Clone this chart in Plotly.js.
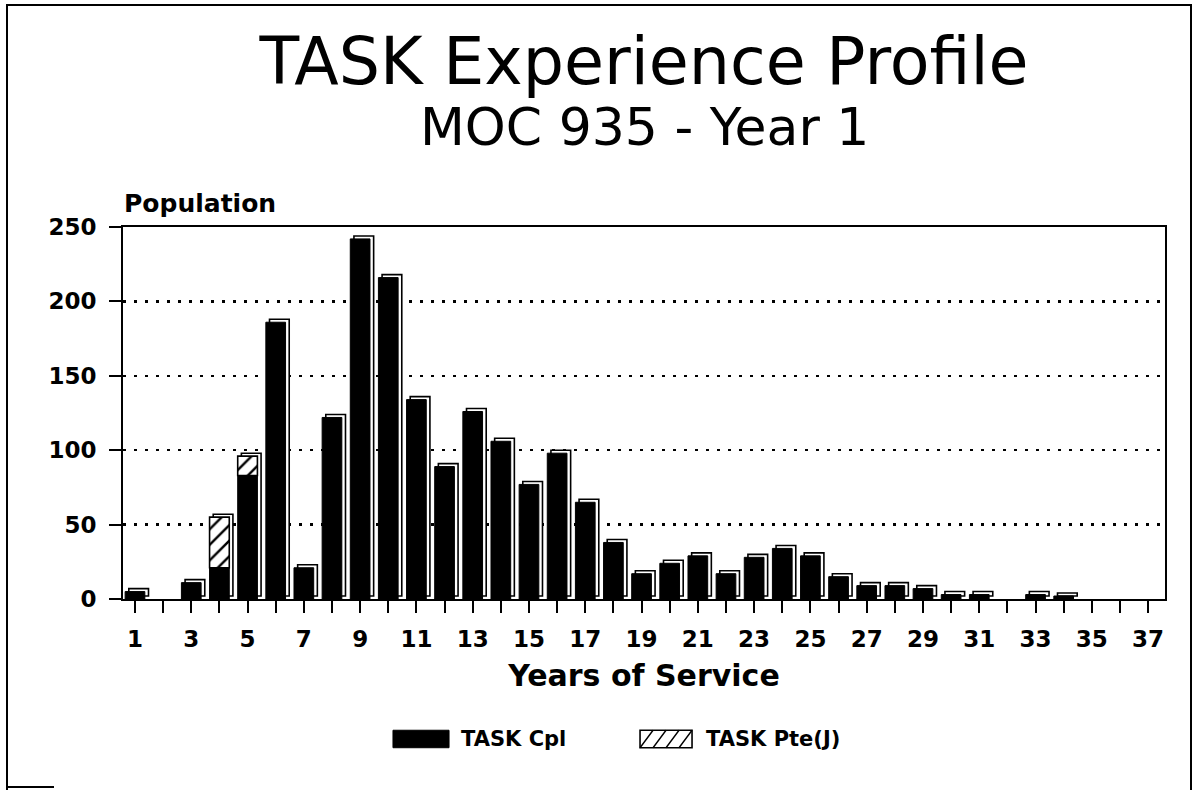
<!DOCTYPE html>
<html>
<head>
<meta charset="utf-8">
<script src="https://cdn.plot.ly/plotly-3.0.1.min.js"></script>
<style>
  html, body { margin: 0; padding: 0; background: #fff; }
  #wrap { position: relative; width: 1192px; height: 790px; overflow: hidden; }
  #chart { position: absolute; left: 0; top: 0; width: 1192px; height: 790px; }
  #frame { position: absolute; left: 6px; top: 4px; width: 1182px; height: 784px;
           border-left: 2px solid #000; border-top: 2px solid #000; border-right: 2px solid #000;
           pointer-events: none; }
  #frameBottom { position: absolute; left: 6px; top: 786px; width: 48px; height: 0;
           border-top: 2px solid #000; pointer-events: none; }
</style>
</head>
<body>
<div id="wrap">
  <div id="chart"></div>
  <div id="frame"></div>
  <div id="frameBottom"></div>
</div>
<script>
// ---- Data ----
const years = [1,2,3,4,5,6,7,8,9,10,11,12,13,14,15,16,17,18,19,20,21,22,23,24,25,26,27,28,29,30,31,32,33,34,35,36,37];
const taskCpl = [5,0,11,21,83,186,21,122,242,216,134,89,126,106,77,98,65,38,17,24,29,17,28,34,29,15,9,9,7,3,3,0,3,2,0,0,0];
const taskPte = [0,0,0,34,13,0,0,0,0,0,0,0,0,0,0,0,0,0,0,0,0,0,0,0,0,0,0,0,0,0,0,0,0,0,0,0,0];
const tickLabels = years.map(y => (y % 2 === 1 ? String(y) : ''));
const seriesNames = ['TASK Cpl', 'TASK Pte(J)'];

// ---- Styles ----
const BAR_W = 0.70;       // front face width (category units)
const SIDE_SHIFT = 0.13;  // 3D side depth (category units)
const CAP_LIFT = 2;       // 3D top lift (value units)
const FONT_B = 'DejaVu Sans, Verdana, sans-serif';
const nz = arr => arr.map(v => (v > 0 ? v : null));   // hide empty bars

const totals = years.map((_, i) => taskCpl[i] + taskPte[i]);

const shadow = {
  type: 'bar', x: years, y: nz(totals), base: CAP_LIFT,
  width: BAR_W, offset: -BAR_W / 2 + SIDE_SHIFT,
  marker: { color: '#ffffff', line: { color: '#000000', width: 1.6 } },
  showlegend: false, hoverinfo: 'skip'
};
const cpl = {
  type: 'bar', name: seriesNames[0], x: years, y: nz(taskCpl), base: 0,
  width: BAR_W, offset: -BAR_W / 2, showlegend: false,
  marker: { color: '#000000', line: { color: '#000000', width: 1 } }
};
const pte = {
  type: 'bar', name: seriesNames[1], x: years, y: nz(taskPte), base: taskCpl,
  width: BAR_W, offset: -BAR_W / 2, showlegend: false,
  marker: {
    color: '#ffffff',
    line: { color: '#000000', width: 1.6 },
    pattern: { shape: '/', fgcolor: '#000000', bgcolor: '#ffffff', size: 11, solidity: 0.22 }
  }
};

// ---- Legend keys (drawn in paper coordinates, below the axis title) ----
const LEG_Y0 = -0.3998, LEG_Y1 = -0.3528;
const key1 = { x0: 0.2591, x1: 0.3129 };
const key2 = { x0: 0.4962, x1: 0.5461 };
function hatchPath(k, n) {
  let p = '';
  const w = (k.x1 - k.x0) / n;
  for (let i = 0; i < n; i++) {
    const xa = k.x0 + i * w, xb = xa + w;
    p += `M${xa},${LEG_Y0} L${xb},${LEG_Y1} `;
  }
  return p;
}
const shapes = [
  { type: 'rect', xref: 'paper', yref: 'paper', x0: key1.x0, x1: key1.x1, y0: LEG_Y0, y1: LEG_Y1,
    fillcolor: '#000', line: { color: '#000', width: 1 } },
  { type: 'rect', xref: 'paper', yref: 'paper', x0: key2.x0, x1: key2.x1, y0: LEG_Y0, y1: LEG_Y1,
    fillcolor: '#fff', line: { color: '#000', width: 1.6 } },
  { type: 'path', xref: 'paper', yref: 'paper', path: hatchPath(key2, 4), line: { color: '#000', width: 1.4 } }
];

const layout = {
  width: 1192, height: 790,
  margin: { l: 123, r: 27, t: 227, b: 191, pad: 0 },
  paper_bgcolor: '#ffffff', plot_bgcolor: '#ffffff',
  barmode: 'overlay',
  showlegend: false,
  title: {
    text: 'TASK Experience Profile',
    font: { family: FONT_B, size: 65, color: '#000' },
    xref: 'paper', x: 0.5, xanchor: 'center',
    yref: 'container', y: 0.923, yanchor: 'middle'
  },
  shapes: shapes,
  annotations: [
    { text: 'MOC 935 - Year 1', xref: 'paper', yref: 'paper', x: 0.5, y: 1.27,
      xanchor: 'center', yanchor: 'middle', showarrow: false,
      font: { family: FONT_B, size: 52, color: '#000' } },
    { text: 'Population', xref: 'paper', yref: 'paper', x: -0.001, y: 1.018,
      xanchor: 'left', yanchor: 'bottom', showarrow: false,
      font: { family: FONT_B, size: 25, color: '#000', weight: 'bold' } },
    { text: seriesNames[0], xref: 'paper', yref: 'paper', x: 0.3225, y: -0.377,
      xanchor: 'left', yanchor: 'middle', showarrow: false,
      font: { family: FONT_B, size: 21, color: '#000', weight: 'bold' } },
    { text: seriesNames[1], xref: 'paper', yref: 'paper', x: 0.5576, y: -0.377,
      xanchor: 'left', yanchor: 'middle', showarrow: false,
      font: { family: FONT_B, size: 21, color: '#000', weight: 'bold' } }
  ],
  xaxis: {
    range: [0.574, 37.60], tickmode: 'array', tickvals: years, ticktext: tickLabels,
    ticks: 'outside', ticklen: 12, tickwidth: 2, tickcolor: '#000',
    showline: true, linecolor: '#000', linewidth: 2, mirror: true,
    showgrid: false, zeroline: false,
    tickfont: { family: FONT_B, size: 23, color: '#000', weight: 'bold' },
    ticklabelstandoff: 6,
    title: { text: 'Years of Service', standoff: 14,
             font: { family: FONT_B, size: 30, color: '#000', weight: 'bold' } }
  },
  yaxis: {
    range: [0, 250], tickmode: 'array', tickvals: [0, 50, 100, 150, 200, 250],
    ticks: 'outside', ticklen: 12, tickwidth: 2, tickcolor: '#000',
    showline: true, linecolor: '#000', linewidth: 2, mirror: true,
    showgrid: true, gridcolor: '#000', gridwidth: 2.5, griddash: '2.5px,8.5px',
    zeroline: false,
    tickfont: { family: FONT_B, size: 23, color: '#000', weight: 'bold' },
    ticklabelstandoff: 8
  }
};

Plotly.newPlot('chart', [shadow, cpl, pte], layout, { staticPlot: true, displayModeBar: false });
</script>
</body>
</html>
